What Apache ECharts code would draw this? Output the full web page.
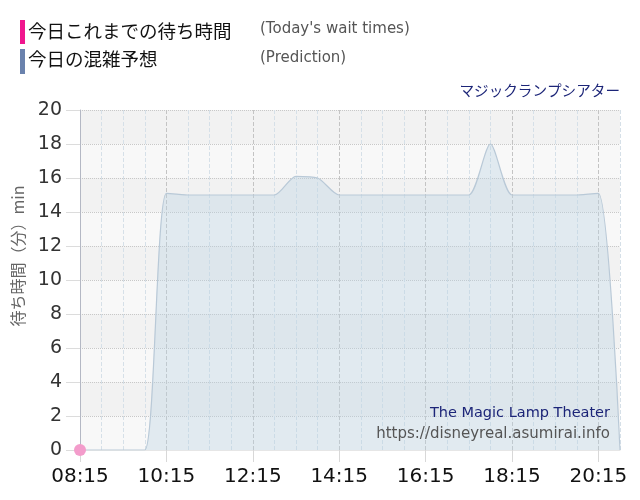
<!DOCTYPE html>
<html><head><meta charset="utf-8">
<script src="https://cdn.jsdelivr.net/npm/echarts@6/dist/echarts.min.js"></script>
<style>html,body{margin:0;padding:0;background:#fff}#c{width:640px;height:500px}</style>
</head><body><div id="c"></div>
<script>
const times = ['08:15','08:45','09:15','09:45','10:15','10:45','11:15','11:45','12:15','12:45','13:15','13:45','14:15','14:45','15:15','15:45','16:15','16:45','17:15','17:45','18:15','18:45','19:15','19:45','20:15','20:45'];
const prediction = [0,0,0,0,15.1,15,15,15,15,15,16.1,16,15,15,15,15,15,15,15,18,15,15,15,15,15.1,0];
const waitTimes = [0,null,null,null,null,null,null,null,null,null,null,null,null,null,null,null,null,null,null,null,null,null,null,null,null,null];
const yTicks = [0,2,4,6,8,10,12,14,16,18,20];

const chart = echarts.init(document.getElementById('c'), null, {renderer:'canvas'});
const jp = '"Noto Sans CJK JP", sans-serif';
const lat = '"DejaVu Sans", Verdana, sans-serif';
chart.setOption({
  animation:false,
  grid:{left:80,right:20,top:110,bottom:50},
  xAxis:{
    type:'category', data:times, boundaryGap:false,
    axisLine:{show:true,lineStyle:{color:'#e6e6e6'}},
    axisTick:{show:true,interval:3,length:12,lineStyle:{color:'#d8d8d8'}},
    axisLabel:{interval:3,color:'#111',fontSize:20,fontFamily:lat,margin:17},
    splitLine:{show:true,interval:0,lineStyle:{type:'dashed',color:['#c4c4c4','#d6e0e8','#d6e0e8','#d6e0e8'],width:1}}
  },
  yAxis:{
    type:'value', min:yTicks[0], max:yTicks[yTicks.length-1], interval:2,
    axisLine:{show:true,lineStyle:{color:'#b4b8c4'}},
    axisTick:{show:true,length:14,lineStyle:{color:'#dcdcdc'}},
    axisLabel:{color:'#333',fontSize:19,fontFamily:lat,margin:18},
    splitLine:{show:true,lineStyle:{type:'dotted',color:'#c8c8c8'}},
    splitArea:{show:true,areaStyle:{color:['#f8f8f8','#f2f2f2']}}
  },
  series:[
    {type:'line', data:prediction, smooth:0.25, showSymbol:false, symbol:'none',
     lineStyle:{color:'#b9c9d7',width:1.2},
     areaStyle:{color:'rgba(185,210,228,0.5)'}, z:2},
    {type:'line', data:waitTimes, showSymbol:true, symbol:'circle', symbolSize:12,
     lineStyle:{color:'#f39ccb',width:2}, itemStyle:{color:'#f39ccb'}, z:5}
  ],
  graphic:[
    {type:'rect',shape:{x:20,y:20,width:5,height:24},style:{fill:'#f0168e'}},
    {type:'rect',shape:{x:20,y:49,width:5,height:25},style:{fill:'#6a82ad'}},
    {type:'text',left:28,top:22,style:{text:'今日これまでの待ち時間',fill:'#111',font:'18.5px '+jp}},
    {type:'text',left:28,top:50,style:{text:'今日の混雑予想',fill:'#111',font:'18.5px '+jp}},
    {type:'text',left:260,top:22,style:{text:"(Today's wait times)",fill:'#555',font:'15px '+lat}},
    {type:'text',left:260,top:51,style:{text:'(Prediction)',fill:'#555',font:'15px '+lat}},
    {type:'text',right:20,top:83,style:{text:'マジックランプシアター',fill:'#1c2578',font:'14.6px '+jp}},
    {type:'text',right:30,top:406,style:{text:'The Magic Lamp Theater',fill:'#1c2578',font:'14.5px '+lat},z:10},
    {type:'text',right:30,top:427,style:{text:'https://disneyreal.asumirai.info',fill:'#555',font:'15px '+lat},z:10},
    {type:'text',x:18,y:256,rotation:Math.PI/2,style:{text:'待ち時間（分）min',fill:'#666',font:'16px '+jp,align:'center',verticalAlign:'middle'}}
  ]
});
</script></body></html>
